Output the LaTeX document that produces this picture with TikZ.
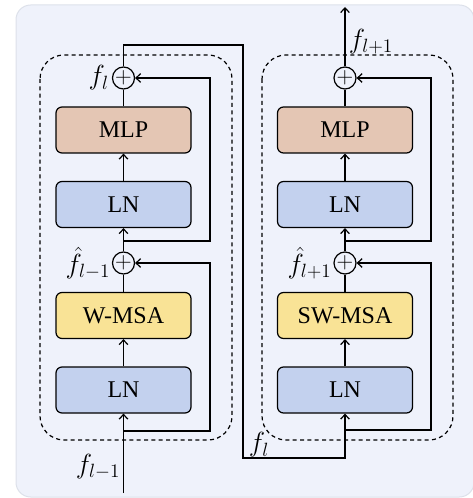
\documentclass[tikz,border=0pt]{standalone}
\usepackage{amsmath}
\usepackage{fontspec}
\setmainfont{Liberation Serif}
\usepackage{tikz}
\usetikzlibrary{arrows.meta}
\tikzset{every picture/.style={line width=0.75pt}}
\definecolor{bgfill}{RGB}{239,242,251}
\definecolor{bgline}{RGB}{221,225,234}
\definecolor{mlpfill}{RGB}{228,198,180}
\definecolor{lnfill}{RGB}{195,209,238}
\definecolor{msafill}{RGB}{249,227,150}

\begin{document}
\begin{tikzpicture}[x=0.75pt,y=0.75pt,yscale=-1,xscale=1,
  layerbox/.style={draw, rounded corners=4.5pt, line width=0.9pt, minimum width=101.25pt, minimum height=34.5pt, inner sep=0pt, font=\fontsize{18}{20}\selectfont},
  addnode/.style={draw, circle, line width=0.9pt, minimum size=16.5pt, inner sep=0pt, font=\fontsize{17.28}{18}\selectfont},
  conn/.style={line width=0.9pt},
  arr/.style={conn, -{Straight Barb[length=3.5pt,width=6.5pt]}},
  flabel/.style={inner sep=0pt, font=\fontsize{20.74}{24}\selectfont},
  blockframe/.style={draw, dash pattern=on 3pt off 2.5pt, rounded corners=18pt, line width=0.9pt}]
\useasboundingbox (0,0) rectangle (473,498);

%Shape: Rectangle (background)
\draw [color=bgline, fill=bgfill, rounded corners=11pt] (16,5) rectangle (474,497);

%Shape: Dashed frames
\draw [blockframe] (40,55) rectangle (232,440);
\draw [blockframe] (262,55) rectangle (453,440);

%Left block (W-MSA)
\node [addnode] (addA1) at (123.5,78) {$+$};
\node [layerbox, fill=mlpfill] (mlpA) at (123.5,130) {MLP};
\node [layerbox, fill=lnfill] (lnA2) at (123.5,204.5) {LN};
\node [addnode] (addA2) at (123.5,263) {$+$};
\node [layerbox, fill=msafill] (msaA) at (123.5,315.5) {W-MSA};
\node [layerbox, fill=lnfill] (lnA1) at (123.5,390) {LN};

%Right block (SW-MSA)
\node [addnode] (addB1) at (345,78) {$+$};
\node [layerbox, fill=mlpfill] (mlpB) at (345,130) {MLP};
\node [layerbox, fill=lnfill] (lnB2) at (345,204.5) {LN};
\node [addnode] (addB2) at (345,263) {$+$};
\node [layerbox, fill=msafill] (msaB) at (345,315.5) {SW-MSA};
\node [layerbox, fill=lnfill] (lnB1) at (345,390) {LN};

%Free ends
\coordinate (inA) at (123.5,493);
\coordinate (outB) at (345,7);

%Labels
\node [flabel, anchor=east] (lfA1) at ([xshift=-2pt]addA1.west) {$f_l$};
\node [flabel, anchor=east] (lfA2) at ([xshift=-1pt]addA2.west) {$\hat{f}_{l-1}$};
\node [flabel] (lfin) at (98,467) {$f_{l-1}$};
\node [flabel, anchor=east] (lfB2) at ([xshift=-1pt]addB2.west) {$\hat{f}_{l+1}$};
\node [flabel] (lfout) at (371,42) {$f_{l+1}$};
\node [flabel] (lfmid) at (259,445) {$f_l$};

%Straight Lines (left block main path)
\draw [arr] (inA) -- (lnA1.south);
\draw [arr] (lnA1.north) -- (msaA.south);
\draw [conn] (msaA.north) -- (addA2.south);
\draw [arr] (addA2.north) -- (lnA2.south);
\draw [arr] (lnA2.north) -- (mlpA.south);
\draw [conn] (mlpA.north) -- (addA1.south);
%Straight Lines (left block skips)
\draw [arr] (123.5,431) -| (210,263) -- (addA2.east);
\draw [arr] (123.5,241) -| (210,78) -- (addA1.east);

%Straight Lines (between blocks)
\draw [arr] (addA1.north) |- (243,45) |- (345,458) -- (lnB1.south);

%Straight Lines (right block main path)
\draw [arr] (lnB1.north) -- (msaB.south);
\draw [conn] (msaB.north) -- (addB2.south);
\draw [arr] (addB2.north) -- (lnB2.south);
\draw [arr] (lnB2.north) -- (mlpB.south);
\draw [conn] (mlpB.north) -- (addB1.south);
\draw [arr] (addB1.north) -- (outB);
%Straight Lines (right block skips)
\draw [arr] (345,430) -| (431,263) -- (addB2.east);
\draw [arr] (345,241) -| (431,78) -- (addB1.east);

\end{tikzpicture}
\end{document}
